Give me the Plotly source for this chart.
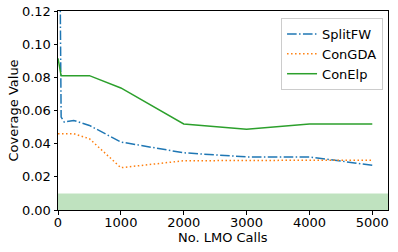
import plotly.graph_objects as go

lmo_calls = [0, 50, 100, 250, 500, 1000, 2000, 3000, 4000, 5000]
splitfw = [0.30, 0.056, 0.053, 0.054, 0.051, 0.041, 0.0345, 0.032, 0.032, 0.027]
congda = [0.046, 0.046, 0.046, 0.046, 0.043, 0.0255, 0.0297, 0.030, 0.030, 0.030]
conelp = [0.0915, 0.081, 0.081, 0.081, 0.081, 0.0736, 0.0519, 0.0487, 0.0519, 0.0519]
band_low, band_high = 0.0, 0.01
x_ticks = [0, 1000, 2000, 3000, 4000, 5000]
y_ticks = [0.00, 0.02, 0.04, 0.06, 0.08, 0.10, 0.12]

FONT = "DejaVu Sans"
FS = 13
fig = go.Figure()

fig.add_shape(type="rect", xref="paper", yref="y", x0=0, x1=1, y0=band_low, y1=band_high,
              fillcolor="rgba(44,160,44,0.3)", line_width=0, layer="below")

fig.add_trace(go.Scatter(x=lmo_calls, y=splitfw, mode="lines", name="SplitFW",
                         line=dict(color="#1f77b4", width=1.5, dash="9.6px,2.4px,1.5px,2.4px")))
fig.add_trace(go.Scatter(x=lmo_calls, y=congda, mode="lines", name="ConGDA",
                         line=dict(color="#ff7f0e", width=1.5, dash="1.5px,2.5px")))
fig.add_trace(go.Scatter(x=lmo_calls, y=conelp, mode="lines", name="ConElp",
                         line=dict(color="#2ca02c", width=1.5)))

axis_common = dict(showline=True, linecolor="black", linewidth=1, mirror=True,
                   ticks="outside", ticklen=3.5, tickwidth=0.8, tickcolor="black",
                   showgrid=False, zeroline=False, automargin=False,
                   tickfont=dict(family=FONT, size=FS, color="black"))

fig.update_xaxes(range=[0, 5250], tickvals=x_ticks, ticklabelstandoff=-3, **axis_common)
fig.update_yaxes(range=[0, 0.12], tickvals=y_ticks, tickformat=".2f", **axis_common)

fig.add_annotation(text="No. LMO Calls", xref="paper", yref="paper", x=0.5, y=0,
                   xanchor="center", yanchor="middle", yshift=-27, showarrow=False,
                   font=dict(family=FONT, size=FS, color="black"))
fig.add_annotation(text="Coverage Value", xref="paper", yref="paper", x=0, y=0.5,
                   xanchor="center", yanchor="middle", xshift=-45, textangle=-90, showarrow=False,
                   font=dict(family=FONT, size=FS, color="black"))

fig.update_layout(
    width=398, height=252,
    margin=dict(l=58, r=10, t=11, b=42),
    plot_bgcolor="white", paper_bgcolor="white",
    font=dict(family=FONT, size=FS, color="black"),
    legend=dict(x=0.985, y=0.965, xanchor="right", yanchor="top",
                bgcolor="rgba(255,255,255,0.8)", bordercolor="#cccccc", borderwidth=1,
                font=dict(family=FONT, size=FS, color="black"),
                itemwidth=30, tracegroupgap=0),
    showlegend=True,
)

fig.write_html("out.html", config={"displayModeBar": False},
               post_script="document.body.style.margin='0';document.body.style.overflow='hidden';")
